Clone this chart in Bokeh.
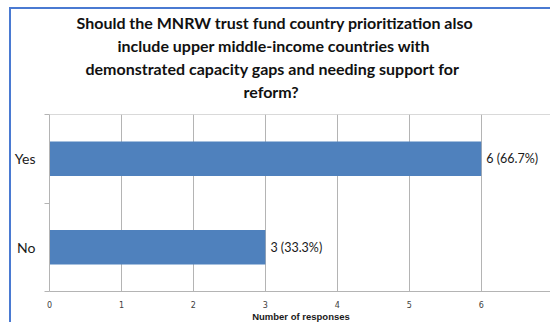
from bokeh.plotting import figure
from bokeh.models import FixedTicker, Range1d, Title, ColumnDataSource, LabelSet, Span
from bokeh.core.properties import value
from bokeh.embed import file_html
from bokeh.resources import INLINE

# ---- data ----
categories = ["Yes", "No"]
counts = [6, 3]
count_labels = ["6 (66.7%)", "3 (33.3%)"]
x_ticks = [0, 1, 2, 3, 4, 5, 6, 7]
title_lines = [
    "Should the MNRW trust fund country prioritization also",
    "include upper middle-income countries with",
    "demonstrated capacity gaps and needing support for",
    "reform?",
]
x_axis_title = "Number of responses"

n = len(categories)
y_pos = [n - i - 0.5 for i in range(n)]
src = ColumnDataSource(dict(y=y_pos, count=counts, label=count_labels, cat=categories))

GRID = "#b4b4b4"
BLUE = "#4f81bd"
X_MAX = 6.99

p = figure(width=541, height=315, output_backend="svg", toolbar_location=None,
           x_range=Range1d(0, X_MAX), y_range=Range1d(0, n),
           min_border_left=38, min_border_right=0, min_border_top=105, min_border_bottom=30)
p.margin = (7, 0, 0, 9)
p.styles = {"border-left": "2px solid #4a7ad2", "border-top": "2px solid #4a7ad2"}

p.outline_line_color = None
p.background_fill_color = "white"
p.border_fill_color = "white"

# title block: left-aligned titles shifted so each line is centred at the chart's centre
title_offsets = [27, 68, 36, 194]
p.title = None
p.add_layout(Title(text=" ", text_font_size="10px", standoff=0), "above")
for line, off in zip(reversed(title_lines), reversed(title_offsets)):
    p.add_layout(Title(text=line, align="left", offset=off, text_font="Lato",
                       text_font_size="16px", text_font_style="bold", text_color="#111111",
                       standoff=2), "above")

p.hbar(y="y", left=0, right="count", height=0.39, source=src,
       fill_color=BLUE, line_color=None)

labels = LabelSet(x="count", y="y", text="label", source=src, x_offset=5,
                  text_baseline="middle", text_font=value("Lato"),
                  text_font_size="12.5px", text_color="#1a1a1a")
p.add_layout(labels)

p.add_layout(Span(location=n, dimension="width", line_color=GRID, line_width=1))

# x axis
p.xaxis.ticker = FixedTicker(ticks=x_ticks)
p.xgrid.ticker = FixedTicker(ticks=[t for t in x_ticks if t < X_MAX])
p.xgrid.grid_line_color = GRID
p.ygrid.grid_line_color = None
p.xaxis.axis_line_color = GRID
p.xaxis.major_tick_out = 0
p.xaxis.major_tick_in = 0
p.xaxis.minor_tick_line_color = None
p.xaxis.major_label_text_font = "DejaVu Sans"
p.xaxis.major_label_text_font_size = "8px"
p.xaxis.major_label_text_color = "#404040"
p.xaxis.major_label_standoff = 9
p.xaxis.axis_label = x_axis_title
p.xaxis.axis_label_text_font = "Liberation Sans"
p.xaxis.axis_label_text_font_style = "bold"
p.xaxis.axis_label_text_font_size = "9.5px"
p.xaxis.axis_label_text_color = "#1a1a1a"
p.xaxis.axis_label_standoff = 0

# y axis
p.yaxis.ticker = FixedTicker(ticks=y_pos, minor_ticks=[float(i) for i in range(n + 1)])
p.yaxis.major_label_overrides = {y: c for y, c in zip(y_pos, categories)}
p.yaxis.axis_line_color = GRID
p.yaxis.major_tick_out = 0
p.yaxis.major_tick_in = 0
p.yaxis.minor_tick_out = 5
p.yaxis.minor_tick_in = 0
p.yaxis.minor_tick_line_color = GRID
p.yaxis.major_label_text_font = "Lato"
p.yaxis.major_label_text_font_size = "14px"
p.yaxis.major_label_text_color = "#1a1a1a"
p.yaxis.major_label_standoff = 9

open("out.html", "w").write(file_html(p, INLINE))
